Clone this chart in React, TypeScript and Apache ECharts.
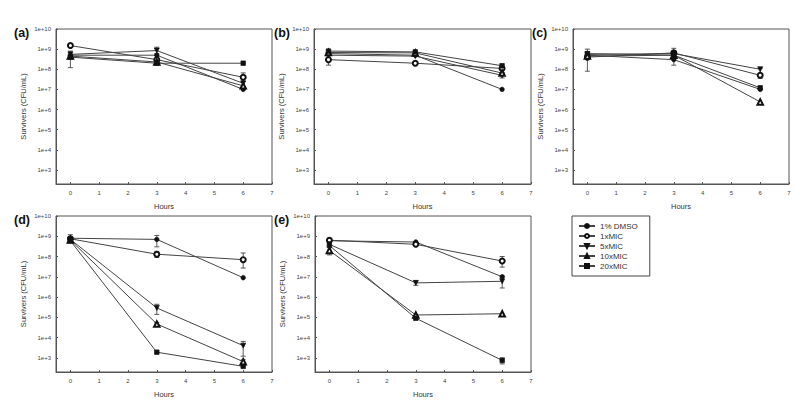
import React, { useEffect, useRef } from "react";
import * as echarts from "echarts";

const hours = [0, 3, 6];
const seriesNames = ["1% DMSO", "1xMIC", "5xMIC", "10xMIC", "20xMIC"];
const panelLabels = ["(a)", "(b)", "(c)", "(d)", "(e)"];

// values per series (rows follow seriesNames), columns follow hours
const panelA = [
  [5e8, 5e8, 1e7],
  [1.5e9, 3e8, 4e7],
  [5.5e8, 8.5e8, 2e7],
  [4.5e8, 2.3e8, 1.5e7],
  [4e8, 2e8, 2e8],
];
const panelB = [
  [6e8, 5e8, 1e7],
  [3e8, 2e8, 1.1e8],
  [5e8, 4.5e8, 5e7],
  [6.8e8, 6.5e8, 6.5e7],
  [8e8, 7.3e8, 1.5e8],
];
const panelC = [
  [5e8, 3e8, 1e7],
  [4e8, 6.5e8, 5e7],
  [5.5e8, 6e8, 1e8],
  [4.5e8, 5e8, 2.4e6],
  [6e8, 5e8, 1.2e7],
];
const panelD = [
  [8e8, 7e8, 9e6],
  [7.5e8, 1.3e8, 7e7],
  [7e8, 2.9e5, 4e3],
  [6.5e8, 4.7e4, 6.5e2],
  [6e8, 1.9e3, 3.8e2],
];
const panelE = [
  [6e8, 5.2e8, 1e7],
  [6.4e8, 4e8, 6e7],
  [4e8, 5e6, 6e6],
  [2e8, 1.3e5, 1.5e5],
  [3.5e8, 9e4, 7.5e2],
];

// error bars: [hour, low, high]
const errA = [[0, 1.2e8, 8e8], [3, 6e8, 1.25e9], [6, 2.5e7, 6.6e7]];
const errB = [[0, 1.6e8, 4e8], [6, 3.7e7, 6.5e7]];
const errC = [[0, 8e7, 1e9], [3, 1.6e8, 1.1e9], [6, 3.5e7, 1.1e8]];
const errD = [
  [0, 5e8, 1.2e9], [3, 3e8, 1.1e9], [3, 9e7, 1.8e8], [3, 1.4e5, 4.4e5],
  [3, 4e4, 5.6e4], [6, 2.7e7, 1.5e8], [6, 1.2e3, 6.5e3], [6, 5e2, 8e2],
];
const errE = [
  [0, 5e8, 8e8], [0, 1.2e8, 3.3e8], [3, 3.8e6, 6.5e6],
  [6, 3e7, 1e8], [6, 2.8e6, 1.1e7], [6, 5e2, 1e3],
];

const panels = [panelA, panelB, panelC, panelD, panelE];
const panelErrors = [errA, errB, errC, errD, errE];

const FONT = "'Liberation Sans', Arial, sans-serif";
const symbols = ["circle", "emptyCircle", "triangle", "emptyTriangle", "rect"];
const symbolRotates = [0, 0, 180, 0, 0];
const symbolSizes = [4.5, 5, 5, 5.5, 4.5];

export default function App() {
  const ref = useRef<HTMLDivElement>(null);
  useEffect(() => {
    if (!ref.current) return;
    const chart = echarts.init(ref.current, null, { renderer: "svg" });
    const grids = [
      { left: 56, top: 29, width: 216, height: 155 },
      { left: 314, top: 29, width: 217, height: 155 },
      { left: 573, top: 29, width: 216, height: 155 },
      { left: 56, top: 216, width: 216, height: 156 },
      { left: 315, top: 216, width: 216, height: 156 },
    ];
    const titlePos = [
      { left: 14, top: 26 },
      { left: 274, top: 26 },
      { left: 532, top: 26 },
      { left: 14, top: 213 },
      { left: 274, top: 213 },
    ];
    const axisColor = "#555";
    const xAxes = grids.map((_, i) => ({
      type: "value",
      gridIndex: i,
      min: -0.5,
      max: 7,
      splitNumber: 7,
      name: "Hours",
      nameLocation: "middle",
      nameGap: 18,
      nameTextStyle: { fontSize: 7.5, color: "#333", fontFamily: FONT },
      axisLine: { show: true, onZero: false, lineStyle: { color: axisColor, width: 1 } },
      axisTick: { show: true, inside: true, length: 2, lineStyle: { color: axisColor } },
      axisLabel: {
        fontSize: 6,
        color: "#444",
        margin: 6,
        fontFamily: FONT,
        showMinLabel: false,
        formatter: (v: number) => (Number.isInteger(v) ? String(v) : ""),
      },
      splitLine: { show: false },
    }));
    const yAxes = grids.map((_, i) => ({
      type: "log",
      logBase: 10,
      gridIndex: i,
      min: 200,
      max: 1e10,
      name: "Survivers (CFU/mL)",
      nameLocation: "middle",
      nameGap: 29,
      nameTextStyle: { fontSize: 7.5, color: "#333", fontFamily: FONT },
      axisLine: { show: true, onZero: false, lineStyle: { color: axisColor, width: 1 } },
      axisTick: { show: true, inside: true, length: 2, lineStyle: { color: axisColor } },
      axisLabel: {
        fontSize: 6,
        color: "#444",
        margin: 5,
        fontFamily: FONT,
        showMinLabel: false,
        formatter: (v: number) => {
          const e = Math.round(Math.log10(v));
          return v < 900 ? "" : "1e+" + e;
        },
      },
      splitLine: { show: false },
      minorTick: { show: false },
    }));

    const series: any[] = [];
    panels.forEach((panel, i) => {
      series.push({
        type: "custom",
        xAxisIndex: i,
        yAxisIndex: i,
        z: 1,
        encode: { x: 0, y: [1, 2] },
        data: panelErrors[i],
        renderItem: (params: any, api: any) => {
          const x = api.value(0);
          const p1 = api.coord([x, api.value(1)]);
          const p2 = api.coord([x, api.value(2)]);
          const w = 2.5;
          const st = { stroke: "#333", lineWidth: 0.8 };
          return {
            type: "group",
            children: [
              { type: "line", shape: { x1: p1[0], y1: p1[1], x2: p2[0], y2: p2[1] }, style: st },
              { type: "line", shape: { x1: p1[0] - w, y1: p1[1], x2: p1[0] + w, y2: p1[1] }, style: st },
              { type: "line", shape: { x1: p2[0] - w, y1: p2[1], x2: p2[0] + w, y2: p2[1] }, style: st },
            ],
          };
        },
      });
      panel.forEach((vals, s) => {
        series.push({
          type: "line",
          name: seriesNames[s],
          xAxisIndex: i,
          yAxisIndex: i,
          z: 2,
          data: hours.map((h, j) => [h, vals[j]]),
          symbol: symbols[s],
          symbolRotate: symbolRotates[s],
          symbolSize: symbolSizes[s],
          showAllSymbol: true,
          lineStyle: { color: "#444", width: 1 },
          itemStyle: { color: "#111", borderColor: "#111", borderWidth: 0.7 },
        });
      });
    });

    chart.setOption({
      animation: false,
      backgroundColor: "#fff",
      title: panelLabels.map((t, i) => ({
        text: t,
        ...titlePos[i],
        padding: 0,
        textStyle: { fontSize: 12.5, fontWeight: "bold", color: "#111", fontFamily: FONT },
      })),
      grid: grids.map((g) => ({
        ...g,
        show: true,
        borderColor: axisColor,
        borderWidth: 1,
        backgroundColor: "transparent",
      })),
      xAxis: xAxes,
      yAxis: yAxes,
      legend: {
        data: seriesNames,
        orient: "vertical",
        left: 572,
        top: 216,
        padding: [6, 12, 6, 6],
        itemGap: 2,
        itemWidth: 16,
        itemHeight: 5,
        borderColor: "#444",
        borderWidth: 1,
        selectedMode: false,
        textStyle: { fontSize: 8, color: "#333", fontFamily: FONT, padding: [0, 0, 0, 0] },
      },
      series,
    });
    return () => chart.dispose();
  }, []);
  return (
    <div
      ref={ref}
      style={{ position: "fixed", left: 0, top: 0, width: 800, height: 405 }}
    />
  );
}
